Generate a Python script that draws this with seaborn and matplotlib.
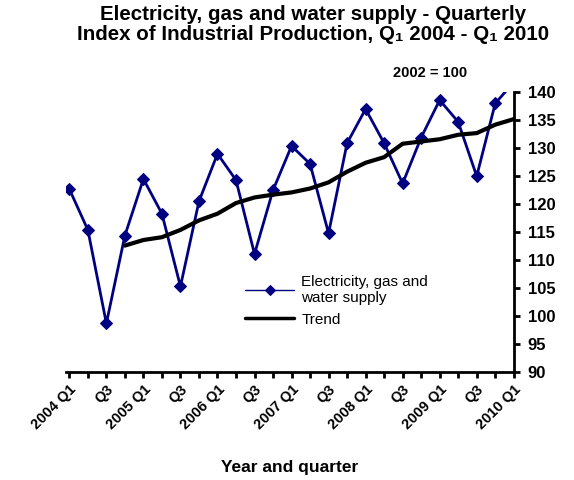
import numpy as np
import pandas as pd
import matplotlib
matplotlib.use("Agg")
import matplotlib.pyplot as plt
import seaborn as sns

# quarters 2004 Q1 .. 2010 Q1
quarters = ["2004 Q1", "Q2", "Q3", "Q4",
            "2005 Q1", "Q2", "Q3", "Q4",
            "2006 Q1", "Q2", "Q3", "Q4",
            "2007 Q1", "Q2", "Q3", "Q4",
            "2008 Q1", "Q2", "Q3", "Q4",
            "2009 Q1", "Q2", "Q3", "Q4",
            "2010 Q1"]
tick_labels = [q if (i % 2 == 0) else "" for i, q in enumerate(quarters)]

supply = [122.6, 115.3, 98.6, 114.3,
          124.4, 118.2, 105.2, 120.4,
          128.9, 124.2, 111.0, 122.4,
          130.3, 127.1, 114.7, 130.8,
          136.9, 130.8, 123.6, 131.8,
          138.5, 134.6, 124.9, 137.9,
          141.7]
trend = [np.nan, np.nan, np.nan, 112.5,
         113.5, 114.0, 115.3, 117.0,
         118.2, 120.1, 121.1, 121.6,
         122.0, 122.7, 123.8, 125.7,
         127.3, 128.3, 130.7, 131.1,
         131.5, 132.3, 132.6, 134.1,
         135.1]

df = pd.DataFrame({"x": np.arange(len(quarters)), "supply": supply, "trend": trend})

sns.set_style("white")
plt.rcParams['font.family'] = ['Liberation Sans', 'DejaVu Sans']
plt.rcParams['text.color'] = 'black'
plt.rcParams['xtick.color'] = 'black'
plt.rcParams['ytick.color'] = 'black'
plt.rcParams['axes.labelcolor'] = 'black'

fig = plt.figure(figsize=(5.74, 4.8), dpi=100)
ax = fig.add_axes([0.115, 0.226, 0.780, 0.583])

sns.lineplot(data=df, x="x", y="supply", ax=ax, color="#000080", lw=2,
             marker="D", markersize=6, markeredgecolor="#000080",
             label="Electricity, gas and\nwater supply")
sns.lineplot(data=df, x="x", y="trend", ax=ax, color="black", lw=3,
             label="Trend")

ax.set_xlim(-0.18, 24)
ax.set_ylim(90, 140)
ax.set_yticks(np.arange(90, 141, 5))
ax.yaxis.tick_right()
ax.set_xticks(df["x"])
ax.set_xticklabels(tick_labels, rotation=45, ha="right", rotation_mode="anchor",
                   fontsize=10.5, fontweight="bold")
for t in ax.get_yticklabels():
    t.set_fontsize(12)
    t.set_fontweight("bold")
ax.tick_params(axis="both", direction="out", length=4, width=2, color="black",
               bottom=True, right=True, left=False)
ax.tick_params(axis="y", pad=6)
ax.tick_params(axis="x", pad=4)

for s in ["top", "left"]:
    ax.spines[s].set_visible(False)
for s in ["bottom", "right"]:
    ax.spines[s].set_color("black")
    ax.spines[s].set_linewidth(2)

ax.set_xlabel("Year and quarter", fontsize=12.5, fontweight="bold", labelpad=20)
ax.set_ylabel("")

fig.text(0.545, 0.99, "Electricity, gas and water supply - Quarterly\n"
         "Index of Industrial Production, Q\u2081 2004 - Q\u2081 2010",
         ha="center", va="top", fontsize=14.8, fontweight="bold", linespacing=1.1)
fig.text(0.75, 0.848, "2002 = 100", ha="center", va="center",
         fontsize=10.5, fontweight="bold")

leg = ax.legend(loc="upper left", bbox_to_anchor=(0.37, 0.395), frameon=False,
                fontsize=11, handlelength=3.2, handletextpad=0.45, labelspacing=0.5)
leg.get_lines()[0].set_linewidth(1)
leg.get_lines()[0].set_markersize(5)
leg.get_lines()[1].set_linewidth(2.5)

fig.savefig("out.png", dpi=100)
